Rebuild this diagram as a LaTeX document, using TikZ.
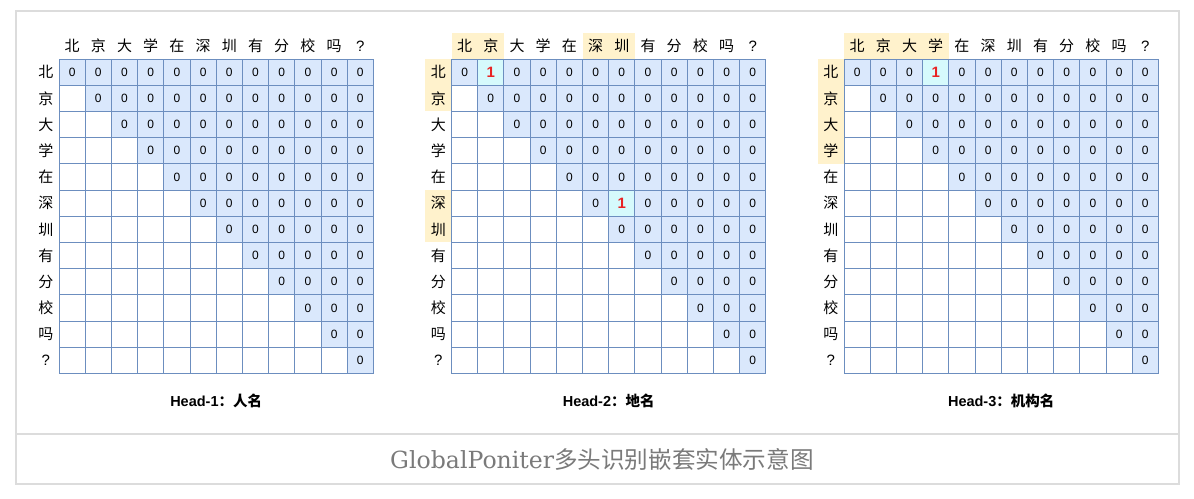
\documentclass[tikz,border=0pt]{standalone}
\usepackage{fontspec}
\setmainfont{Liberation Sans}
\newfontfamily\cjk{Noto Sans CJK SC}
\newfontfamily\capfont{DejaVu Serif}
\definecolor{zerofill}{RGB}{218,232,252}
\definecolor{cellline}{RGB}{108,142,191}
\definecolor{onefill}{RGB}{214,250,252}
\definecolor{onered}{RGB}{232,36,36}
\definecolor{hlfill}{RGB}{255,242,204}
\definecolor{framegray}{RGB}{220,220,220}
\definecolor{capgray}{RGB}{122,122,122}
\tikzset{
  cell/.style={draw=cellline,line width=0.9pt,minimum size=26.2pt,inner sep=0pt,font=\fontsize{12}{12}\selectfont},
  onecell/.style={cell,fill=onefill,text=onered,font=\fontsize{15}{15}\selectfont\bfseries},
  lab/.style={minimum size=26.2pt,inner sep=0pt,font=\cjk\fontsize{15}{15}\selectfont},
  headlab/.style={font=\fontsize{14.5}{14.5}\selectfont\bfseries},
  frame/.style={draw=framegray,line width=2pt}
}
\begin{document}
\begin{tikzpicture}[x=1pt,y=-1pt]
\useasboundingbox (0,0) rectangle (1194,498);
%outer frame
\draw[frame] (16,11) rectangle (1179,484);
\draw[frame] (16,433.7) -- (1179,433.7);
%highlighted labels
\foreach \k in {1,2,6,7}{
	\fill[hlfill] ({451.5+(\k-1)*26.2},32.8) rectangle +(26.2,26.2);
	\fill[hlfill] (425.3,{59+(\k-1)*26.2}) rectangle +(26.2,26.2);
}
\foreach \k in {1,2,3,4}{
	\fill[hlfill] ({844+(\k-1)*26.2},32.8) rectangle +(26.2,26.2);
	\fill[hlfill] (817.8,{59+(\k-1)*26.2}) rectangle +(26.2,26.2);
}
%three heads
\foreach \m/\ox/\name in {1/59/人名,2/451.5/地名,3/844/机构名}{
	\foreach \k/\ch in {1/北,2/京,3/大,4/学,5/在,6/深,7/圳,8/有,9/分,10/校,11/吗,12/{\rmfamily ?}}{
		\node[lab] (h\m-c\k) at ({\ox+(\k-0.5)*26.2},45.9) {\ch};
		\node[lab] (h\m-r\k) at ({\ox-13.1},{59+(\k-0.5)*26.2}) {\ch};
	}
	\foreach \r in {1,...,12}{
		\foreach \c in {1,...,12}{
			\ifnum\c<\r
				\node[cell,fill=white] (m\m-\r-\c) at ({\ox+(\c-0.5)*26.2},{59+(\r-0.5)*26.2}) {};
			\else
				\node[cell,fill=zerofill] (m\m-\r-\c) at ({\ox+(\c-0.5)*26.2},{59+(\r-0.5)*26.2}) {0};
			\fi
		}
	}
	\node[headlab] (head\m) at ({\ox+157.2},401) {Head-\m{\cjk：\name}};
}
%entities
\node[onecell] (one-bj) at (m2-1-2) {1};
\node[onecell] (one-sz) at (m2-6-7) {1};
\node[onecell] (one-bjdx) at (m3-1-4) {1};
%caption
\node[text=capgray,font=\fontsize{23.6}{23.6}\selectfont] (caption) at (602,459)
	{\capfont GlobalPoniter\cjk 多头识别嵌套实体示意图};
\end{tikzpicture}
\end{document}
